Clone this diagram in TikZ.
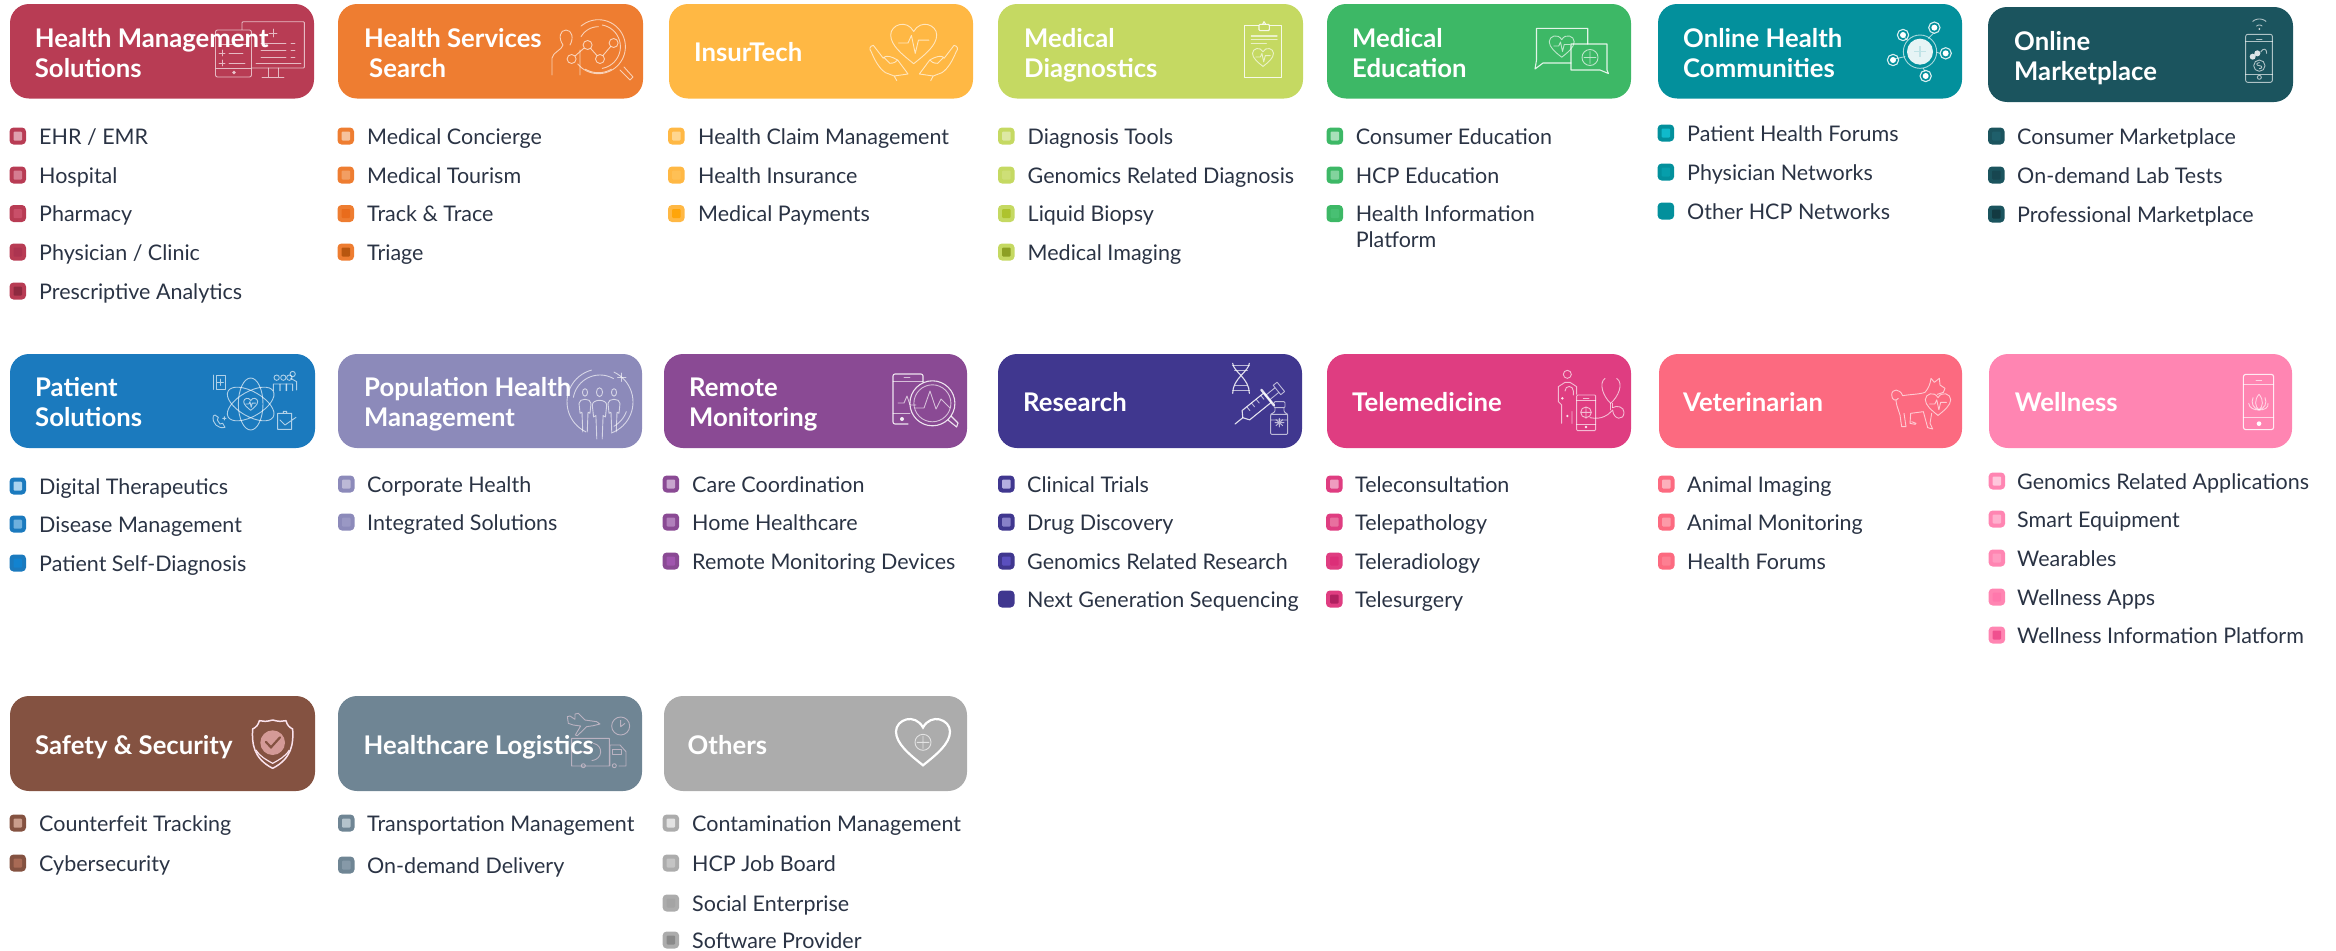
\documentclass[tikz,border=0pt]{standalone}
\usepackage{fontspec}
\setmainfont{Lato}
\definecolor{cA}{HTML}{B83C54}\definecolor{cB}{HTML}{EE7D31}\definecolor{cC}{HTML}{FFB844}\definecolor{cD}{HTML}{C5D962}
\definecolor{cE}{HTML}{3DB866}\definecolor{cF}{HTML}{03909C}\definecolor{cG}{HTML}{1B545E}
\definecolor{cH}{HTML}{1B7ABE}\definecolor{cI}{HTML}{8C8ABA}\definecolor{cJ}{HTML}{8A4A94}\definecolor{cK}{HTML}{40378F}
\definecolor{cL}{HTML}{DF3D81}\definecolor{cM}{HTML}{FC6A80}\definecolor{cN}{HTML}{FF85B2}
\definecolor{cO}{HTML}{845241}\definecolor{cP}{HTML}{6F8594}\definecolor{cQ}{HTML}{ACACAC}
\definecolor{ink}{HTML}{2A3344}
\tikzset{
 catbox/.style={rounded corners=19bp,inner sep=0,draw=none,text width=0},
 cattext/.style={anchor=base west,inner sep=0,text=white,align=left,font=\fontsize{25.7bp}{30bp}\selectfont\bfseries},
 itemtext/.style={anchor=base west,inner sep=0,text=ink,align=left,font=\fontsize{21.5bp}{26bp}\selectfont},
 bulout/.style={rounded corners=4bp,inner sep=0,minimum width=16.5bp,minimum height=17bp},
 bulin/.style={rounded corners=1bp,inner sep=0,minimum width=8.5bp,minimum height=9bp},
 ico/.style={draw=white,line width=.9bp,draw opacity=.65,line cap=round,line join=round},
 icb/.style={draw=white,line width=1.1bp,draw opacity=.85,line cap=round,line join=round},
 pics/hrt/.style={code={\draw[#1] (0,.9) .. controls (-.5,.5) and (-1,.1) .. (-1,-.35) .. controls (-1,-.8) and (-.3,-1.05) .. (0,-.5) .. controls (.3,-1.05) and (1,-.8) .. (1,-.35) .. controls (1,.1) and (.5,.5) .. (0,.9) -- cycle;}},
 pics/ecg/.style={code={\draw[#1] (-.8,0) -- (-.3,0) -- (-.12,-.4) -- (.08,.55) -- (.25,-.15) -- (.8,-.15);}},
 pics/prsn/.style={code={\draw[ico] (0,-.8) circle[radius=.17];\draw[ico] (-.15,1) -- (-.2,.1) -- (-.33,.15) -- (-.4,-.3) .. controls (-.4,-.55) and (.4,-.55) .. (.4,-.3) -- (.33,.15) -- (.2,.1) -- (.15,1);}},
}
\newcommand\catb[6]{\node[catbox,fill=#6,minimum width={(#3-#2)*1bp},minimum height={(#5-#4)*1bp}] (#1) at ({(#2+#3)/2},{(#4+#5)/2}) {};}
\newcommand\lab[4]{\node[cattext] (#1) at (#2,#3+1.5) {#4};}
\newcommand\itmbase[8]{\definecolor{tmpin}{HTML}{#5}\node[bulout,fill=#4] (#1) at (#2+8.25,#3) {};\node[bulin,fill=tmpin] (#1i) at (#2+8.25,#3) {};\node[itemtext] (#1t) at (#6,#3+#8) {#7};}
\newcommand\itm[7]{\itmbase{#1}{#2}{#3}{#4}{#5}{#6}{#7}{8}}
\newcommand\arcp[6][ico]{\draw[#1] plot[smooth,domain=#5:#6,samples=24] ({#2+#4*cos(\x)},{#3+#4*sin(\x)});}
\newcommand\handp{\draw[ico] (492,136) .. controls (483,138) and (482,148) .. (487,155) .. controls (495,180) and (505,205) .. (520,218) -- (540,228) -- (546,242) (540,228) -- (572,222) -- (548,180) .. controls (535,170) and (522,165) .. (516,172) (492,136) -- (515,175) (516,172) -- (530,190) .. controls (540,190) and (545,185) .. (548,180);}
\begin{document}
\begin{tikzpicture}[x=1bp,y=-1bp]
\useasboundingbox (0,0) rectangle (2336,950);
% ---------- boxes
\catb{bA}{10}{314}{4}{98.5}{cA}\catb{bB}{338}{643}{4}{98.5}{cB}\catb{bC}{669}{973}{4}{98.5}{cC}\catb{bD}{998}{1303}{4}{98.5}{cD}
\catb{bE}{1327}{1631}{4}{98.5}{cE}\catb{bF}{1658}{1962}{4}{98.5}{cF}\catb{bG}{1988}{2293}{7}{102}{cG}
\catb{bH}{10}{315}{354}{448}{cH}\catb{bI}{338}{642}{354}{448}{cI}\catb{bJ}{664}{967}{354}{448}{cJ}\catb{bK}{998}{1302}{354}{448}{cK}
\catb{bL}{1327}{1631}{354}{448}{cL}\catb{bM}{1659}{1962}{354}{448}{cM}\catb{bN}{1989}{2292}{354}{448}{cN}
\catb{bO}{10}{315}{696}{791}{cO}\catb{bP}{338}{642}{696}{791}{cP}\catb{bQ}{664}{967}{696}{791}{cQ}
% ---------- icon A: monitor + tablet
\draw[ico,rounded corners=1bp] (242,21.7) rectangle (304.4,68);
\draw[ico] (256,63) -- (301,63) (268,68) -- (268,77.5) (278,68) -- (278,77.5) (262,77.5) -- (284,77.5);
\draw[ico] (261,43) -- (286,43) (291,43) -- (295,43) (261,50) -- (286,50) (291,50) -- (295,50) (261,57) -- (286,57) (291,57) -- (295,57);
\draw[ico] (273,29) -- (273,37) (269,33) -- (277,33);
\draw[ico,fill=cA,rounded corners=2bp] (215.5,30) rectangle (251.5,77);
\draw[ico] (216,68) -- (251,68) (219,53) -- (225,53) (222,50) -- (222,56) (229,53) -- (243,53) (219,63) -- (225,63) (222,60) -- (222,66) (229,63) -- (245,63) (219,44) -- (248,44);
\fill[white,opacity=.7] (234,72.5) circle[radius=1.8];
% ---------- icon B: search
\arcp{598.4}{46.7}{27}{-130}{140}\arcp{598.4}{46.7}{22}{-80}{80}\arcp{598.4}{46.7}{26}{60}{120}\arcp{598.4}{46.7}{20}{-150}{-90}
\draw[ico] (620,70) -- (630,80) -- (633,77) -- (624,67);
\draw[ico] (552,75) -- (552,58) .. controls (553,52) and (562,50) .. (563,45) .. controls (558,38) and (560,30) .. (566,30) .. controls (572,30) and (574,38) .. (570,45) (580,50) -- (580,75);
\draw[ico] (587.6,45) -- (600,59) -- (613.6,43) (587.6,45) -- (571.6,59);
\foreach \cx/\cy in {587.6/45,600/59,613.6/43,571.6/59}{\draw[ico,fill=cB] (\cx,\cy) circle[radius=4.5];}
% ---------- icon C: heart in hands
\pic at (913.7,43) [scale=23] {hrt={ico}};
\pic at (913.7,43) [scale=19] {ecg={ico}};
\begin{scope}[shift={(660,0)},xscale=1/2.306,yscale=1/3]\handp\end{scope}
\begin{scope}[shift={(1167.4,0)},xscale=-1/2.306,yscale=1/3]\handp\end{scope}
% ---------- icon D: clipboard
\begin{scope}[shift={(900,0)},scale=1/3]
\draw[icb] (1033,76) rectangle (1145,233);
\draw[icb,fill=cD,rounded corners=1bp] (1077,73) rectangle (1108,92);
\draw[icb] (1088,73) -- (1092,65) -- (1097,73);
\draw[ico,line width=1.3bp] (1054,108) -- (1131,108) (1054,119) -- (1131,119) (1054,130) -- (1099,130);
\end{scope}
\pic at (1263,57) [scale=10.5] {hrt={ico}};
\pic at (1263,57) [scale=9] {ecg={ico}};
% ---------- icon E: chat
\draw[icb] (1571,63) -- (1543,63) -- (1535,69) -- (1536.5,60) -- (1536.5,28.3) -- (1587.7,28.3) -- (1587.7,44);
\draw[icb] (1571,44) -- (1607,44) -- (1607,70) -- (1608.4,73.5) -- (1600,70) -- (1571,70) -- cycle;
\pic at (1561.7,46) [scale=12.5] {hrt={ico}};
\pic at (1561.7,46) [scale=10] {ecg={ico}};
\draw[ico] (1590,57.5) circle[radius=8] (1590,51.5) -- (1590,63.5) (1584,57.5) -- (1596,57.5);
% ---------- icon F: network
\begin{scope}[shift={(1900,0)},scale=1/3]
\draw[ico] (60,155) circle[radius=50];
\draw[ico] (85,115) -- (100,100) (110,157) -- (120,160) (70,205) -- (75,215) (22,120) -- (10,108) (15,170) -- (-22,178);
\fill[white,opacity=.9] (60,155) circle[radius=39];
\draw[cF!25!white,line width=1.3bp] (60,138) -- (60,172) (43,155) -- (77,155);
\foreach \cx/\cy in {103/83,137/160,77/228,9/105,-21/180}{\draw[icb] (\cx,\cy) circle[radius=17];\fill[white] (\cx,\cy) circle[radius=9];}
\end{scope}
% ---------- icon G: phone, wifi
\begin{scope}[shift={(1900,0)},scale=1/3]
\draw[ico,rounded corners=2bp] (1037,103) rectangle (1117,247);
\draw[ico] (1037,125) -- (1117,125) (1037,222) -- (1117,222) (1070,117) -- (1086,117);
\draw[ico] (1078,232) circle[radius=6] (1078,197) circle[radius=17];
\draw[ico] (1078,188) .. controls (1068,188) and (1068,197) .. (1078,197) .. controls (1088,197) and (1088,206) .. (1078,206);
\fill[white,opacity=.85] (1058,170) circle[radius=9] (1072,160) circle[radius=9];
\draw[ico] (1082,156) .. controls (1090,143) and (1100,145) .. (1100,160);
\fill[white,opacity=.8] (1078,87) circle[radius=3];
\arcp{1078}{88}{13}{-130}{-50}\arcp{1078}{88}{31}{-130}{-50}
\end{scope}
% ---------- icon H: atom
\begin{scope}[shift={(0,340)},scale=1/3]
\draw[ico] (752,192) ellipse[x radius=37,y radius=78];
\draw[ico,rotate around={60:(752,192)}] (752,192) ellipse[x radius=37,y radius=78];
\draw[ico,rotate around={-60:(752,192)}] (752,192) ellipse[x radius=37,y radius=78];
\draw[ico] (640,105) -- (640,148) (648,105) rectangle (675,148) (661,117) -- (661,136) (652,127) -- (670,127);
\foreach \cx in {830,850,868}{\draw[ico] (\cx,113) circle[radius=8] (\cx-10,152) -- (\cx-10,132) -- (\cx+10,132) -- (\cx+10,152);}
\draw[ico] (878,102) circle[radius=8] (872,115) -- (890,125) -- (890,150);
\draw[ico] (640,228) .. controls (635,250) and (655,268) .. (675,262) -- (668,250) -- (660,252) -- (652,240) -- (655,232) -- (645,225) -- cycle (668,235) -- (678,235) (673,230) -- (673,240);
\draw[ico] (833,220) rectangle (875,268) (850,220) -- (850,214) -- (860,214) -- (860,220) (840,240) -- (855,255) -- (888,232);
\end{scope}
\pic at (250.7,404) [scale=7] {hrt={ico}};
\pic at (250.7,404) [scale=6] {ecg={ico}};
% ---------- icon I: population
\arcp{600}{402}{33}{115}{255}\arcp{600}{402}{33}{-65}{70}\arcp{600}{402}{27}{-170}{-60}\arcp{600}{402}{28}{20}{60}
\draw[ico] (621.8,373) -- (621.8,381.5) (617.5,377.3) -- (626,377.3);
\pic at (585,410) [xscale=15,yscale=22] {prsn};
\pic at (614,410) [xscale=15,yscale=22] {prsn};
\pic at (599.5,413) [xscale=18,yscale=26] {prsn};
% ---------- icon J: remote monitoring
\draw[icb,rounded corners=2bp] (908,424) -- (893,424) -- (893,374) -- (923,374) -- (923,382);
\draw[ico] (893,381) -- (923,381) (893,413) -- (910,413) (904,377.5) -- (910,377.5);
\fill[white,opacity=.9] (902,419) circle[radius=2];
\draw[icb] (932.4,403.3) circle[radius=22.5];
\draw[ico] (932.4,403.3) circle[radius=18.5];
\draw[icb] (948,420) -- (956.6,427) -- (958,423) -- (951,416);
\draw[ico] (898,403) -- (904,403) -- (907,396) -- (910,405) -- (916,405);
\draw[ico] (915,408) -- (924,408) -- (930,391) -- (936,409) -- (941,399) -- (950,408);
% ---------- icon K: research
\begin{scope}[shift={(1220,355)},scale=1/3]
\draw[icb] (38,25) .. controls (40,50) and (88,70) .. (88,115) (88,25) .. controls (86,50) and (38,70) .. (38,115);
\draw[ico] (38,32) -- (88,32) (44,45) -- (82,45) (45,92) -- (81,92) (38,105) -- (88,105);
\draw[ico,rounded corners=1bp] (152,178) rectangle (203,238) (152,195) -- (203,195) (162,140) rectangle (195,158) (165,158) -- (165,170) -- (152,178) (192,158) -- (192,170) -- (203,178);
\draw[ico] (165,203) -- (192,203) (178,190) -- (178,216) (168,194) -- (188,212) (188,194) -- (168,212);
\end{scope}
\begin{scope}[shift={(1235,424)},rotate=39]
\draw[icb] (0,0) -- (10,0);
\draw[icb] (10,0) -- (14,-6) -- (42,-6) -- (42,6) -- (14,6) -- cycle;
\draw[ico] (20,-6) -- (20,-1) (26,-6) -- (26,-1) (32,-6) -- (32,-1) (38,-6) -- (38,-1);
\draw[icb,line width=2.4bp] (42,-10) -- (42,10);
\draw[ico] (42,-3) -- (54,-3) (42,3) -- (54,3) (54,-6) -- (54,6) -- (59,6) -- (59,-6) -- cycle;
\end{scope}
% ---------- icon L: telemedicine
\begin{scope}[shift={(1220,355)},scale=1/3]
\draw[ico] (1042,58) circle[radius=12];
\draw[ico] (1025,205) -- (1025,150) -- (1015,140) -- (1015,95) -- (1035,82) -- (1050,82) -- (1070,95) -- (1070,118) (1056,205) -- (1056,170);
\draw[ico] (1035,108) .. controls (1035,90) and (1060,90) .. (1060,108) -- (1060,120);
\fill[white,opacity=.85] (1027,130) circle[radius=4] (1042,183) circle[radius=4];
\draw[ico,fill=cL,rounded corners=1bp] (1070,120) rectangle (1127,227);
\draw[ico] (1070,137) -- (1127,137) (1070,207) -- (1127,207) (1090,129) -- (1107,129);
\fill[white,opacity=.9] (1098,216) circle[radius=4];
\draw[ico] (1098,172) circle[radius=16] (1082,172) -- (1114,172) (1098,156) -- (1098,190);
\draw[ico] (1155,70) .. controls (1135,85) and (1150,125) .. (1172,145) .. controls (1195,125) and (1212,85) .. (1190,70);
\draw[ico] (1172,145) -- (1172,165) (1178,145) -- (1178,158);
\draw[ico] (1110,188) .. controls (1145,195) and (1165,180) .. (1178,165) .. controls (1180,195) and (1212,198) .. (1212,172) .. controls (1212,155) and (1190,150) .. (1178,158);
\end{scope}
% ---------- icon M: dog + heart
\begin{scope}[shift={(1880,355)},scale=1/3]
\draw[ico] (68,122) .. controls (60,100) and (35,100) .. (35,120) .. controls (35,135) and (48,140) .. (55,130) (48,137) .. controls (50,160) and (62,175) .. (62,195) -- (65,215) -- (78,215) -- (72,175) (92,175) -- (90,205) -- (105,208) -- (108,205) -- (95,200) (68,122) .. controls (90,118) and (120,118) .. (135,112) .. controls (145,100) and (150,90) .. (153,70) -- (163,82) -- (178,70) -- (180,90) -- (195,100) -- (190,112) -- (172,118) (92,175) -- (130,170) -- (143,218) -- (158,222) -- (150,205) -- (155,175);
\end{scope}
\pic at (1938,404) [scale=12.7] {hrt={ico,fill=cM}};
\pic at (1938,404) [scale=10.5] {ecg={ico}};
% ---------- icon N: phone lotus
\begin{scope}[shift={(1880,355)},scale=1/3]
\draw[icb,rounded corners=2.5bp] (1090,58) rectangle (1181,224);
\draw[ico] (1090,88) -- (1181,88) (1090,188) -- (1181,188) (1128,75) -- (1145,75);
\fill[white] (1137,206) circle[radius=7];
\draw[ico] (1137,118) .. controls (1122,135) and (1125,155) .. (1137,165) .. controls (1149,155) and (1152,135) .. (1137,118);
\draw[ico] (1119,128) .. controls (1112,145) and (1120,160) .. (1137,165) .. controls (1154,160) and (1162,145) .. (1155,128);
\draw[ico] (1106,145) .. controls (1108,158) and (1120,165) .. (1137,165) .. controls (1154,165) and (1166,158) .. (1164,145);
\end{scope}
% ---------- icon O: shield
\begin{scope}[shift={(240,700)},scale=1/3]
\draw[draw=cL!15!white,line width=1.5bp,line join=round] (98,60) .. controls (80,65) and (70,65) .. (58,62) .. controls (55,75) and (48,82) .. (38,87) .. controls (35,130) and (40,175) .. (98,205) .. controls (156,175) and (161,130) .. (158,87) .. controls (148,82) and (141,75) .. (138,62) .. controls (126,65) and (116,65) .. (98,60);
\draw[draw=cL!15!white,line width=1.2bp] (48,150) .. controls (60,170) and (80,180) .. (98,190) .. controls (116,180) and (136,170) .. (148,150);
\definecolor{shieldin}{HTML}{D49A97}
\fill[fill=shieldin] (98,128) circle[radius=37];
\draw[cO,line width=2.2bp,line cap=round] (78,126) -- (93,142) -- (120,112);
\end{scope}
% ---------- icon P: logistics
\begin{scope}[shift={(240,700)},scale=1/3]
\tikzset{lgc/.style={draw=cL!20!white,line width=.9bp,draw opacity=.55,line join=round}}
\draw[lgc] (1142,78) circle[radius=27] (1142,60) -- (1142,80) -- (1155,70);
\draw[lgc] (982,50) -- (990,48) -- (1005,58) -- (1005,42) -- (1015,40) -- (1035,60) -- (1070,65) -- (1080,72) -- (1060,77) -- (1040,80) -- (1012,107) -- (1006,105) -- (1022,78) -- (1000,75) -- (985,70) -- cycle;
\draw[lgc] (995,115) rectangle (1108,198) (1110,135) -- (1140,135) -- (1158,155) -- (1158,198) -- (1136,198) (1110,135) -- (1110,198);
\draw[lgc] (1118,148) rectangle (1145,163);
\draw[lgc] (1030,197) circle[radius=6] (1123,197) circle[radius=6];
\draw[lgc] (1060,130) .. controls (1090,135) and (1090,178) .. (1055,182) (995,155) -- (1050,155);
\end{scope}
% ---------- icon Q: heart
\pic at (923,741) [scale=27] {hrt={draw=white,line width=2.2bp}};
\draw[ico] (923,742.3) circle[radius=8] (923,736) -- (923,748.5) (917,742.3) -- (929,742.3);
% ---------- category labels (the given baseline is that of the last line)
\lab{tA}{34.7}{75.5}{Health Management\\Solutions}
\lab{tB}{364}{75.5}{Health Services\\\hspace{5bp}Search}
\lab{tC}{694}{60}{InsurTech}
\lab{tD}{1024}{75.5}{Medical\\Diagnostics}
\lab{tE}{1352}{75.5}{Medical\\Education}
\lab{tF}{1683}{75.5}{Online Health\\Communities}
\lab{tG}{2014}{79.3}{Online\\Marketplace}
\lab{tH}{35}{425.3}{Patient\\Solutions}
\lab{tI}{364}{425.3}{Population Health\\Management}
\lab{tJ}{689}{425.3}{Remote\\Monitoring}
\lab{tK}{1023}{410}{Research}
\lab{tL}{1352}{410}{Telemedicine}
\lab{tM}{1683}{410}{Veterinarian}
\lab{tN}{2014.6}{410}{Wellness}
\lab{tO}{35}{753}{Safety \& Security}
\lab{tP}{363.5}{753}{Healthcare Logistics}
\lab{tQ}{687.5}{753}{Others}
% ---------- lists
\itm{a1}{9.5}{136}{cA}{DFA0AE}{39}{EHR / EMR}
\itm{a2}{9.5}{175}{cA}{D67C91}{39}{Hospital}
\itm{a3}{9.5}{213.5}{cA}{C94F69}{39}{Pharmacy}
\itm{a4}{9.5}{252}{cA}{AC3450}{39}{Physician / Clinic}
\itm{a5}{9.5}{291}{cA}{8E2A40}{39}{Prescriptive Analytics}
\itm{b1}{337.5}{136}{cB}{F6C19B}{367}{Medical Concierge}
\itm{b2}{337.5}{175}{cB}{F29E63}{367}{Medical Tourism}
\itm{b3}{337.5}{213.5}{cB}{E96C1C}{367}{Track \& Trace}
\itm{b4}{337.5}{252}{cB}{B8560F}{367}{Triage}
\itm{c1}{668}{136}{cC}{FFD68F}{698}{Health Claim Management}
\itm{c2}{668}{175}{cC}{FFC055}{698}{Health Insurance}
\itm{c3}{668}{213.5}{cC}{FFA50A}{698}{Medical Payments}
\itm{d1}{998}{136}{cD}{DDE8A4}{1027.5}{Diagnosis Tools}
\itm{d2}{998}{175}{cD}{CEDF77}{1027.5}{Genomics Related Diagnosis}
\itm{d3}{998}{213.5}{cD}{AEC32E}{1027.5}{Liquid Biopsy}
\itm{d4}{998}{252}{cD}{8CA024}{1027.5}{Medical Imaging}
\itm{e1}{1326.5}{136}{cE}{A8E0BA}{1355.6}{Consumer Education}
\itm{e2}{1326.5}{175}{cE}{82D39D}{1355.6}{HCP Education}
\itmbase{e3}{1326.5}{213.5}{cE}{48C073}{1355.6}{Health Information\\Platform}{34}
\itm{f1}{1657.6}{133}{cF}{10BACB}{1687}{Patient Health Forums}
\itm{f2}{1657.6}{172}{cF}{069EAB}{1687}{Physician Networks}
\itm{f3}{1657.6}{211}{cF}{03909C}{1687}{Other HCP Networks}
\itm{g1}{1988}{136}{cG}{1F5F6B}{2017}{Consumer Marketplace}
\itm{g2}{1988}{175}{cG}{174650}{2017}{On-demand Lab Tests}
\itm{g3}{1988}{214}{cG}{133A42}{2017}{Professional Marketplace}
\itm{h1}{9.5}{486}{cH}{A9D3EF}{39}{Digital Therapeutics}
\itm{h2}{9.5}{524}{cH}{6DB0DE}{39}{Disease Management}
\itm{h3}{9.5}{563}{cH}{1283D0}{39}{Patient Self-Diagnosis}
\itm{i1}{338}{484}{cI}{BCB9D6}{367}{Corporate Health}
\itm{i2}{338}{522}{cI}{9A98C4}{367}{Integrated Solutions}
\itm{j1}{662.6}{484}{cJ}{C8A5CE}{692}{Care Coordination}
\itm{j2}{662.6}{522}{cJ}{B17FBB}{692}{Home Healthcare}
\itm{j3}{662.6}{561}{cJ}{A055AE}{692}{Remote Monitoring Devices}
\itm{k1}{998}{484}{cK}{B4AEE0}{1027}{Clinical Trials}
\itm{k2}{998}{522}{cK}{8880C8}{1027}{Drug Discovery}
\itm{k3}{998}{561}{cK}{5A4FBE}{1027}{Genomics Related Research}
\itm{k4}{998}{599}{cK}{40378F}{1027}{Next Generation Sequencing}
\itm{l1}{1326}{484}{cL}{EF9CBF}{1355}{Teleconsultation}
\itm{l2}{1326}{522}{cL}{E8709F}{1355}{Telepathology}
\itm{l3}{1326}{561}{cL}{DC2E78}{1355}{Teleradiology}
\itm{l4}{1326}{599}{cL}{B02060}{1355}{Telesurgery}
\itm{m1}{1658}{484}{cM}{FCB0BB}{1687}{Animal Imaging}
\itm{m2}{1658}{522}{cM}{FC9AA8}{1687}{Animal Monitoring}
\itm{m3}{1658}{561}{cM}{FD7F92}{1687}{Health Forums}
\itm{n1}{1988.6}{481}{cN}{FFC7DC}{2017}{Genomics Related Applications}
\itm{n2}{1988.6}{519}{cN}{FFB0CE}{2017}{Smart Equipment}
\itm{n3}{1988.6}{558}{cN}{FF9AC0}{2017}{Wearables}
\itm{n4}{1988.6}{597}{cN}{FF78AC}{2017}{Wellness Apps}
\itm{n5}{1988.6}{635}{cN}{F0508F}{2017}{Wellness Information Platform}
\itm{o1}{9.5}{823}{cO}{C99C8B}{39}{Counterfeit Tracking}
\itm{o2}{9.5}{863}{cO}{A86A55}{39}{Cybersecurity}
\itm{p1}{338}{823}{cP}{B4C3CC}{367}{Transportation Management}
\itm{p2}{338}{865}{cP}{8699A8}{367}{On-demand Delivery}
\itm{q1}{662.6}{823}{cQ}{E2E2E2}{692}{Contamination Management}
\itm{q2}{662.6}{863}{cQ}{C4C4C4}{692}{HCP Job Board}
\itm{q3}{662.6}{903}{cQ}{A4A4A4}{692}{Social Enterprise}
\itm{q4}{662.6}{940}{cQ}{8A8A8A}{692}{Software Provider}
\end{tikzpicture}
\end{document}
